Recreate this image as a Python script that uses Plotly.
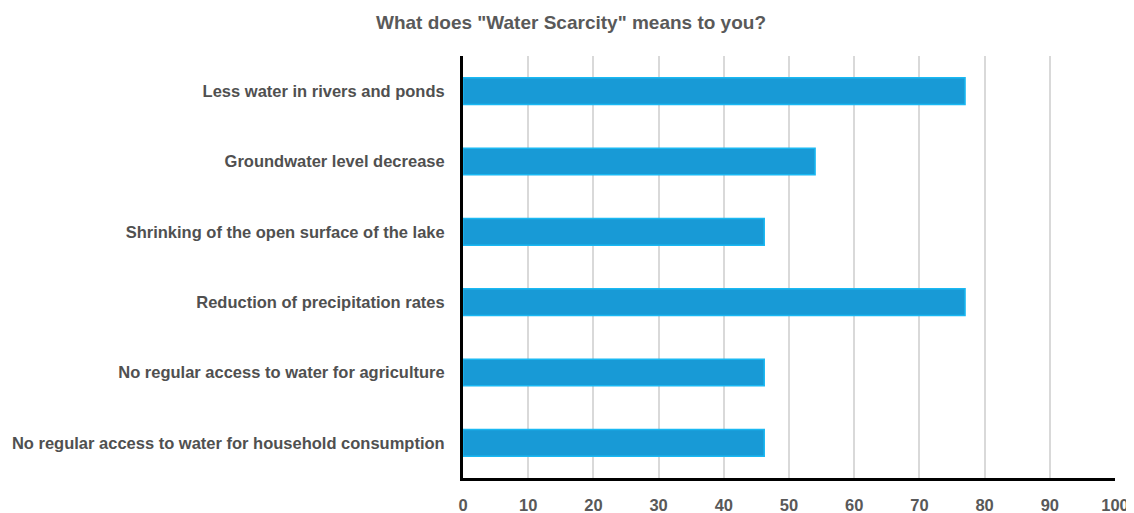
import plotly.graph_objects as go

categories = [
    "Less water in rivers and ponds",
    "Groundwater level decrease",
    "Shrinking of the open surface of the lake",
    "Reduction of precipitation rates",
    "No regular access to water for agriculture",
    "No regular access to water for household consumption",
]
values = [77.0, 54.0, 46.2, 77.0, 46.2, 46.2]
tick_vals = [0, 10, 20, 30, 40, 50, 60, 70, 80, 90, 100]

fig = go.Figure(go.Bar(
    y=categories,
    x=values,
    orientation="h",
    marker=dict(color="#189ad6", line=dict(color="#1ab8f2", width=1.5)),
))

# page body has an 8px margin, so the figure is sized/offset to compensate
fig.update_layout(
    width=1126, height=505,
    margin=dict(l=455, r=19, t=48, b=35, autoexpand=False),
    paper_bgcolor="white", plot_bgcolor="white",
    bargap=0.62,
    showlegend=False,
    title=dict(text='What does "Water Scarcity" means to you?',
               x=0.5, xanchor="center", y=0.972, yanchor="middle",
               automargin=False,
               font=dict(family="Liberation Sans, Arial", size=19, color="#595959", weight="bold")),
    font=dict(family="Liberation Sans, Arial", color="#595959"),
)
fig.update_xaxes(
    range=[0, 100], tickvals=tick_vals, automargin=False,
    showgrid=True, gridcolor="#d9d9d9", gridwidth=2,
    showline=True, linecolor="black", linewidth=3,
    zeroline=False, ticks="", ticklabelstandoff=10,
    tickfont=dict(size=16.5, color="#595959", family="Liberation Sans, Arial", weight="bold"),
)
fig.update_yaxes(
    autorange="reversed", automargin=False,
    showline=True, linecolor="black", linewidth=3,
    showgrid=False, ticks="", ticklabelstandoff=12,
    tickfont=dict(size=16.5, color="#505050", family="Liberation Sans, Arial", weight="bold"),
)

fig.write_html("out.html")
